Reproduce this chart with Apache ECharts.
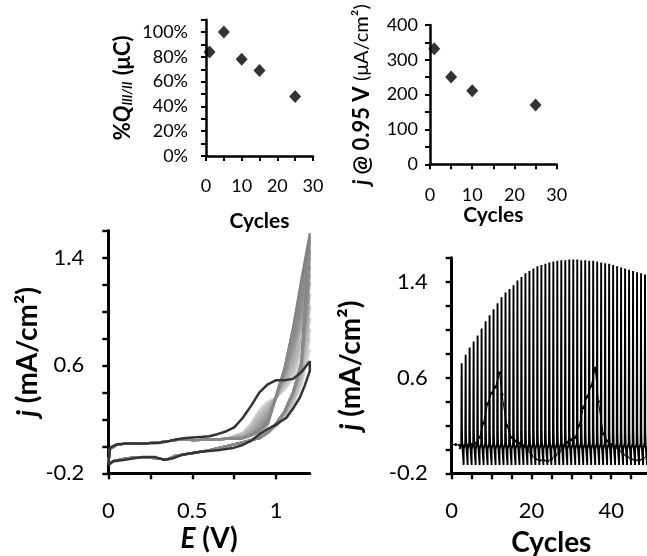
<!DOCTYPE html>
<html>
<head>
<meta charset="utf-8">
<script src="https://cdn.jsdelivr.net/npm/echarts@6/dist/echarts.min.js"></script>
<style>
  html, body { margin: 0; padding: 0; background: #fff; }
  #chart { width: 647px; height: 556px; }
</style>
</head>
<body>
<div id="chart"></div>
<script>
// ---- top left: relative charge vs cycles
const qCycles = [1, 5, 10, 15, 25];
const qPercent = [0.84, 1.00, 0.78, 0.69, 0.48];

// ---- top right: current at 0.95 V vs cycles
const jCycles = [1, 5, 10, 25];
const jValues = [332, 251, 211, 170];

// ---- bottom left: cyclic voltammograms
// first cycle (dark loop)
const cvDarkE = [0, 0.01, 0.05, 0.1, 0.2, 0.3, 0.35, 0.4, 0.45, 0.5, 0.55, 0.6, 0.65, 0.7, 0.75, 0.8, 0.85, 0.9, 0.95, 1.0, 1.05, 1.1, 1.15, 1.2,
                 1.2, 1.17, 1.14, 1.1, 1.06, 1.02, 1.0, 0.95, 0.9, 0.85, 0.8, 0.75, 0.65, 0.55, 0.45, 0.38, 0.33, 0.28, 0.2, 0.1, 0.03, 0, 0];
const cvDarkJ = [-0.14, -0.01, 0.015, 0.02, 0.02, 0.025, 0.035, 0.05, 0.06, 0.065, 0.07, 0.075, 0.09, 0.11, 0.14, 0.21, 0.3, 0.4, 0.46, 0.49, 0.49, 0.5, 0.55, 0.63,
                 0.56, 0.45, 0.36, 0.28, 0.21, 0.18, 0.16, 0.13, 0.09, 0.04, 0.01, -0.01, -0.03, -0.04, -0.06, -0.09, -0.1, -0.08, -0.08, -0.1, -0.11, -0.14, -0.14];
// later cycles (grey loops): shared low-potential parts + per-cycle tails
const cvFwdLowE = [0, 0.01, 0.05, 0.1, 0.2, 0.3, 0.4, 0.45, 0.5, 0.6, 0.7];
const cvFwdLowJ = [-0.13, -0.02, 0.01, 0.02, 0.02, 0.03, 0.045, 0.055, 0.045, 0.05, 0.055];
const cvTailFwdE = [0.8, 0.85, 0.9, 0.95, 1.0, 1.05, 1.1, 1.15, 1.2];
const cvTailRevE = [1.15, 1.1, 1.05, 1.0, 0.95, 0.9, 0.8];
const cvRevLowE = [0.7, 0.6, 0.5, 0.4, 0.35, 0.3, 0.2, 0.1, 0.03, 0];
const cvRevLowJ = [0.0, -0.03, -0.05, -0.07, -0.1, -0.09, -0.08, -0.09, -0.11, -0.13];
const cvTailFwdJ = [
  [0.10, 0.17, 0.27, 0.33, 0.36, 0.42, 0.50, 0.60, 0.72],
  [0.10, 0.16, 0.26, 0.32, 0.36, 0.43, 0.53, 0.65, 0.80],
  [0.09, 0.15, 0.24, 0.31, 0.36, 0.45, 0.56, 0.70, 0.87],
  [0.09, 0.14, 0.22, 0.30, 0.36, 0.46, 0.59, 0.75, 0.95],
  [0.08, 0.13, 0.20, 0.28, 0.36, 0.48, 0.62, 0.80, 1.04],
  [0.07, 0.11, 0.18, 0.26, 0.37, 0.50, 0.66, 0.87, 1.13],
  [0.07, 0.10, 0.16, 0.24, 0.37, 0.52, 0.70, 0.93, 1.22],
  [0.06, 0.09, 0.14, 0.22, 0.36, 0.53, 0.73, 0.98, 1.28],
  [0.06, 0.09, 0.13, 0.20, 0.36, 0.55, 0.76, 1.02, 1.34],
  [0.06, 0.08, 0.12, 0.19, 0.37, 0.56, 0.80, 1.07, 1.40],
  [0.06, 0.08, 0.12, 0.18, 0.37, 0.57, 0.83, 1.12, 1.45],
  [0.06, 0.08, 0.11, 0.17, 0.37, 0.58, 0.86, 1.19, 1.52],
  [0.06, 0.08, 0.11, 0.17, 0.38, 0.58, 0.87, 1.21, 1.55],
  [0.06, 0.08, 0.11, 0.17, 0.38, 0.58, 0.88, 1.24, 1.58],
  [0.06, 0.08, 0.11, 0.16, 0.36, 0.57, 0.84, 1.14, 1.46]
];
const cvTailRevJ = [
  [0.45, 0.31, 0.21, 0.15, 0.10, 0.07, 0.03],
  [0.48, 0.32, 0.21, 0.15, 0.10, 0.07, 0.03],
  [0.50, 0.33, 0.22, 0.15, 0.10, 0.07, 0.03],
  [0.52, 0.34, 0.23, 0.16, 0.10, 0.07, 0.03],
  [0.55, 0.36, 0.24, 0.16, 0.10, 0.07, 0.03],
  [0.56, 0.37, 0.24, 0.16, 0.10, 0.06, 0.03],
  [0.58, 0.38, 0.25, 0.16, 0.10, 0.06, 0.03],
  [0.59, 0.39, 0.25, 0.17, 0.10, 0.06, 0.03],
  [0.60, 0.39, 0.26, 0.17, 0.10, 0.06, 0.03],
  [0.60, 0.40, 0.26, 0.17, 0.10, 0.06, 0.03],
  [0.61, 0.40, 0.26, 0.17, 0.10, 0.06, 0.03],
  [0.62, 0.40, 0.26, 0.17, 0.11, 0.06, 0.03],
  [0.62, 0.40, 0.26, 0.17, 0.11, 0.06, 0.03],
  [0.62, 0.40, 0.26, 0.17, 0.11, 0.06, 0.03],
  [0.61, 0.40, 0.26, 0.17, 0.11, 0.06, 0.03]
];
const cvGreyColors = ['#d4d4d4', '#cbcbcb', '#c2c2c2', '#b9b9b9', '#b0b0b0', '#a7a7a7', '#9f9f9f', '#989898',
                      '#929292', '#8c8c8c', '#888888', '#858585', '#848484', '#828282', '#8a8a8a'];

// ---- bottom right: current trace vs cycle number
const spikeFirstCycle = 2;
const spikePeaks = [0.72, 0.79, 0.85, 0.90, 0.95, 1.01, 1.07, 1.12, 1.17, 1.22, 1.27, 1.31, 1.34, 1.37, 1.41, 1.44,
                    1.47, 1.49, 1.51, 1.53, 1.54, 1.55, 1.56, 1.57, 1.575, 1.58, 1.58, 1.585, 1.585, 1.585, 1.58, 1.58,
                    1.575, 1.575, 1.57, 1.56, 1.555, 1.55, 1.54, 1.53, 1.52, 1.51, 1.50, 1.49, 1.48, 1.47, 1.46, 1.45];
// shape of one cycle in time (fraction of cycle) / current (null = the cycle's peak)
const spikeShapeT = [0, 0.4, 0.5, 0.56, 0.65, 0.95, 1.0];
const spikeShapeJ = [0.0, 0.05, null, 0.15, 0.04, -0.1, -0.13];
// slow trace with markers
const scanCycles = [0, 1, 2, 3, 4, 5, 6, 7, 8, 9, 10, 11, 12, 12.6, 13.8, 15, 16, 17, 18, 19, 20, 21, 22, 23, 24, 25,
                    26, 27, 28, 29, 30, 31, 32, 33, 34, 35, 36, 36.8, 38, 39, 40, 41, 42, 43, 44, 45, 46, 47, 48, 49, 50];
const scanJ = [0.04, 0.04, 0.035, 0.03, 0.035, 0.04, 0.05, 0.1, 0.22, 0.38, 0.47, 0.52, 0.64, 0.46, 0.2, 0.1, 0.07, 0.05, 0.03,
               0.0, -0.05, -0.08, -0.09, -0.09, -0.1, -0.08, -0.05, -0.02, 0.03, 0.06, 0.08, 0.1, 0.2, 0.35, 0.44, 0.53, 0.68,
               0.4, 0.13, 0.07, 0.04, 0.02, -0.01, -0.04, -0.06, -0.08, -0.09, -0.09, -0.08, -0.05, -0.03];

// ---------------------------------------------------------------------------
const FONT = 'Lato';
const BLACK = '#000';

function pairs(xs, ys) {
  return xs.map((x, i) => [x, ys[i]]);
}

function near(list, v) {
  return list.some(t => Math.abs(t - v) < 1e-6);
}

function labelOnly(list, fmt) {
  return v => near(list, v) ? fmt(v) : '';
}

function valueAxis(gridIndex, o) {
  const lw = o.lineWidth;
  return {
    type: 'value',
    gridIndex: gridIndex,
    min: o.min,
    max: o.max,
    interval: o.interval,
    splitLine: { show: false },
    axisLine: { show: true, onZero: false, lineStyle: { color: BLACK, width: lw } },
    axisTick: {
      show: true, inside: false, length: o.tickLen, lineStyle: { color: BLACK, width: lw * 0.8 },
      customValues: o.ticks
    },
    axisLabel: {
      show: true, margin: o.margin, color: BLACK, fontFamily: FONT, fontSize: o.fontSize,
      customValues: o.labels,
      formatter: labelOnly(o.labels, o.fmt || (v => String(+v.toFixed(2))))
    },
    name: o.name,
    nameLocation: 'middle',
    nameGap: o.nameGap,
    nameRotate: o.nameRotate,
    nameTextStyle: o.nameStyle
  };
}

const cvSeries = cvTailFwdJ.map((fwd, k) => ({
  type: 'line',
  xAxisIndex: 2,
  yAxisIndex: 2,
  showSymbol: false,
  silent: true,
  z: 2,
  lineStyle: { color: cvGreyColors[k], width: 2.2 },
  data: pairs(cvFwdLowE, cvFwdLowJ)
    .concat(pairs(cvTailFwdE, fwd))
    .concat(pairs(cvTailRevE, cvTailRevJ[k]))
    .concat(pairs(cvRevLowE, cvRevLowJ))
}));

const spikeData = [];
spikePeaks.forEach((p, i) => {
  const start = spikeFirstCycle + i;
  spikeShapeT.forEach((t, k) => {
    spikeData.push([start + t, spikeShapeJ[k] === null ? p : spikeShapeJ[k]]);
  });
});

const topName = { fontFamily: FONT, fontWeight: 'bold', fontSize: 21, color: BLACK };
const bigName = { fontFamily: FONT, fontWeight: 'bold', fontSize: 28, color: BLACK };

const option = {
  backgroundColor: '#fff',
  animation: false,
  grid: [
    { left: 206, top: 19.7, width: 107, height: 136.3, outerBoundsMode: 'none' },
    { left: 430, top: 25, width: 126.7, height: 139.3, outerBoundsMode: 'none' },
    { left: 108.3, top: 230.5, width: 201.5, height: 242.8, outerBoundsMode: 'none' },
    { left: 451.7, top: 257.8, width: 199.3, height: 215.5, outerBoundsMode: 'none' }
  ],
  xAxis: [
    valueAxis(0, { min: 0, max: 30, interval: 5, lineWidth: 2.5, tickLen: 5, margin: 21, fontSize: 18,
      labels: [0, 10, 20, 30], name: 'Cycles', nameGap: 55, nameStyle: topName }),
    valueAxis(1, { min: 0, max: 30, interval: 5, lineWidth: 2.5, tickLen: 5, margin: 22, fontSize: 18,
      labels: [0, 10, 20, 30], name: 'Cycles', nameGap: 37, nameStyle: topName }),
    valueAxis(2, { min: 0, max: 1.2, interval: 0.25, lineWidth: 3, tickLen: 6, margin: 27, fontSize: 22,
      ticks: [0, 0.25, 0.5, 0.75, 1], labels: [0, 0.5, 1], name: '{i|E}{b| (V)}', nameGap: 52,
      nameStyle: Object.assign({}, bigName, { rich: { i: { fontStyle: 'italic', fontWeight: 'bold', fontSize: 28, fontFamily: FONT }, b: { fontWeight: 'bold', fontSize: 28, fontFamily: FONT } } }) }),
    valueAxis(3, { min: 0, max: 50, interval: 5, lineWidth: 3, tickLen: 6, margin: 27, fontSize: 22,
      labels: [0, 20, 40], name: 'Cycles', nameGap: 56, nameStyle: bigName })
  ],
  yAxis: [
    valueAxis(0, { min: 0, max: 1.1, interval: 0.1, lineWidth: 2.5, tickLen: 5, margin: 18, fontSize: 18,
      labels: [0, 0.2, 0.4, 0.6, 0.8, 1.0], fmt: v => Math.round(v * 100) + '%',
      name: '{p|%}{q|Q}{s|III/II}{p| (μC)}', nameGap: 72, nameRotate: 90,
      nameStyle: Object.assign({}, topName, { rich: {
        p: { fontWeight: 'bold', fontSize: 22, fontFamily: FONT },
        q: { fontWeight: 'bold', fontStyle: 'italic', fontSize: 22, fontFamily: FONT },
        s: { fontWeight: 'bold', fontStyle: 'italic', fontSize: 13, fontFamily: FONT, padding: [10, 1, 0, 0] }
      } }) }),
    valueAxis(1, { min: 0, max: 400, interval: 50, lineWidth: 2.5, tickLen: 5, margin: 12, fontSize: 18,
      labels: [0, 100, 200, 300, 400], name: '{i|j}{b| @ 0.95 V }{n|(μA/cm²)}', nameGap: 57, nameRotate: 90,
      nameStyle: Object.assign({}, topName, { rich: {
        i: { fontWeight: 'bold', fontStyle: 'italic', fontSize: 22, fontFamily: FONT },
        b: { fontWeight: 'bold', fontSize: 22, fontFamily: FONT },
        n: { fontWeight: 'normal', fontSize: 20, fontFamily: FONT }
      } }) }),
    valueAxis(2, { min: -0.2, max: 1.6, interval: 0.2, lineWidth: 3, tickLen: 6, margin: 24, fontSize: 22,
      labels: [-0.2, 0.6, 1.4], name: '{i|j}{b| (mA/cm²)}', nameGap: 64, nameRotate: 90,
      nameStyle: Object.assign({}, bigName, { rich: {
        i: { fontWeight: 'bold', fontStyle: 'italic', fontSize: 28, fontFamily: FONT },
        b: { fontWeight: 'bold', fontSize: 28, fontFamily: FONT }
      } }) }),
    valueAxis(3, { min: -0.2, max: 1.6, interval: 0.2, lineWidth: 3, tickLen: 6, margin: 24, fontSize: 22,
      labels: [-0.2, 0.6, 1.4], name: '{i|j}{b| (mA/cm²)}', nameGap: 87, nameRotate: 90,
      nameStyle: Object.assign({}, bigName, { rich: {
        i: { fontWeight: 'bold', fontStyle: 'italic', fontSize: 28, fontFamily: FONT },
        b: { fontWeight: 'bold', fontSize: 28, fontFamily: FONT }
      } }) })
  ],
  series: [
    {
      type: 'scatter', xAxisIndex: 0, yAxisIndex: 0, symbol: 'diamond', symbolSize: [12, 13],
      itemStyle: { color: BLACK }, data: pairs(qCycles, qPercent)
    },
    {
      type: 'scatter', xAxisIndex: 1, yAxisIndex: 1, symbol: 'diamond', symbolSize: [12, 13],
      itemStyle: { color: BLACK }, data: pairs(jCycles, jValues)
    }
  ].concat(cvSeries).concat([
    {
      type: 'line', xAxisIndex: 2, yAxisIndex: 2, showSymbol: false, z: 3,
      lineStyle: { color: '#333', width: 2.5 }, data: pairs(cvDarkE, cvDarkJ)
    },
    {
      type: 'line', xAxisIndex: 3, yAxisIndex: 3, showSymbol: false, z: 2,
      lineStyle: { color: BLACK, width: 1.9 }, data: spikeData
    },
    {
      type: 'line', xAxisIndex: 3, yAxisIndex: 3, symbol: 'circle', symbolSize: 3, z: 3,
      itemStyle: { color: BLACK }, lineStyle: { color: BLACK, width: 1 }, data: pairs(scanCycles, scanJ)
    }
  ])
};

const chart = echarts.init(document.getElementById('chart'), null, { renderer: 'canvas' });
chart.setOption(option);
</script>
</body>
</html>
